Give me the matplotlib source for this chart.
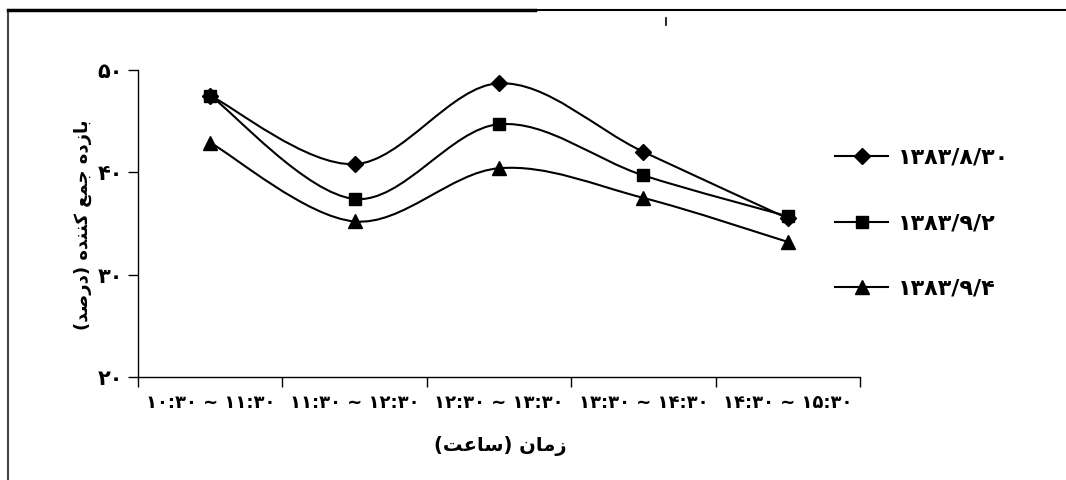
import matplotlib
matplotlib.use('Agg')
import matplotlib.pyplot as plt
from matplotlib.path import Path
from matplotlib.patches import PathPatch
from matplotlib.lines import Line2D

# ---------------- data ----------------
categories = ['۱۰:۳۰ ~ ۱۱:۳۰', '۱۱:۳۰ ~ ۱۲:۳۰', '۱۲:۳۰ ~ ۱۳:۳۰',
              '۱۳:۳۰ ~ ۱۴:۳۰', '۱۴:۳۰ ~ ۱۵:۳۰']
series_labels = ['۱۳۸۳/۸/۳۰', '۱۳۸۳/۹/۲', '۱۳۸۳/۹/۴']
values_8_30 = [47.5, 40.8, 48.7, 42.0, 35.5]
values_9_2 = [47.5, 37.4, 44.7, 39.7, 35.7]
values_9_4 = [42.9, 35.2, 40.4, 37.5, 33.2]
y_ticks = [20, 30, 40, 50]
y_tick_labels = ['۲۰', '۳۰', '۴۰', '۵۰']
x_label = 'زمان (ساعت)'
y_label = 'بازده جمع کننده (درصد)'

# ---------------- minimal Arabic/Persian shaping ----------------
FORMS = {  # isolated, final, initial, medial
    'ا': ('\uFE8D', '\uFE8E'), 'د': ('\uFEA9', '\uFEAA'),
    'ر': ('\uFEAD', '\uFEAE'), 'ز': ('\uFEAF', '\uFEB0'),
    'ب': ('\uFE8F', '\uFE90', '\uFE91', '\uFE92'),
    'ت': ('\uFE95', '\uFE96', '\uFE97', '\uFE98'),
    'ج': ('\uFE9D', '\uFE9E', '\uFE9F', '\uFEA0'),
    'س': ('\uFEB1', '\uFEB2', '\uFEB3', '\uFEB4'),
    'ص': ('\uFEB9', '\uFEBA', '\uFEBB', '\uFEBC'),
    'ع': ('\uFEC9', '\uFECA', '\uFECB', '\uFECC'),
    'م': ('\uFEE1', '\uFEE2', '\uFEE3', '\uFEE4'),
    'ن': ('\uFEE5', '\uFEE6', '\uFEE7', '\uFEE8'),
    'ه': ('\uFEE9', '\uFEEA', '\uFEEB', '\uFEEC'),
    'ک': ('\uFB8E', '\uFB8F', '\uFB90', '\uFB91'),
}
MIRROR = {'(': ')', ')': '('}


def shape(text):
    out = []
    n = len(text)
    for i, ch in enumerate(text):
        if ch not in FORMS:
            out.append(MIRROR.get(ch, ch))
            continue
        f = FORMS[ch]
        prev = text[i - 1] if i > 0 else ''
        nxt = text[i + 1] if i < n - 1 else ''
        cp = prev in FORMS and len(FORMS[prev]) == 4
        cn = len(f) == 4 and nxt in FORMS
        if cp and cn:
            out.append(f[3])
        elif cp:
            out.append(f[1])
        elif cn:
            out.append(f[2])
        else:
            out.append(f[0])
    return ''.join(reversed(out))


plt.rcParams['font.family'] = ['DejaVu Sans']
plt.rcParams['font.weight'] = 'bold'

W, H = 1066, 480
fig = plt.figure(figsize=(W / 100, H / 100), dpi=100)
ax = fig.add_axes([138 / W, 1 - 377 / H, (860 - 138) / W, (377 - 70) / H])

x = list(range(len(categories)))
all_series = [values_8_30, values_9_2, values_9_4]
markers = ['D', 's', '^']
msizes = [8.5, 9, 9.5]


def smooth_path(xs, ys):
    pts = list(zip(xs, ys))
    verts = [pts[0]]
    codes = [Path.MOVETO]
    for i in range(len(pts) - 1):
        p0 = pts[i - 1] if i > 0 else pts[i]
        p1 = pts[i]
        p2 = pts[i + 1]
        p3 = pts[i + 2] if i + 2 < len(pts) else pts[i + 1]
        c1 = (p1[0] + (p2[0] - p0[0]) / 6, p1[1] + (p2[1] - p0[1]) / 6)
        c2 = (p2[0] - (p3[0] - p1[0]) / 6, p2[1] - (p3[1] - p1[1]) / 6)
        verts += [c1, c2, p2]
        codes += [Path.CURVE4] * 3
    return Path(verts, codes)


handles = []
for vals, m, ms, lab in zip(all_series, markers, msizes, series_labels):
    ax.add_patch(PathPatch(smooth_path(x, vals), fill=False, edgecolor='black',
                           lw=1.5, zorder=2))
    ax.plot(x, vals, linestyle='none', marker=m, markersize=ms, color='black', zorder=3)
    handles.append(Line2D([], [], color='black', lw=1.5, marker=m, markersize=ms))

ax.set_xlim(-0.5, len(categories) - 0.5)
ax.set_ylim(20, 50)
ax.set_yticks(y_ticks)
ax.set_yticklabels(y_tick_labels, fontsize=15, fontweight='bold')
ax.set_xticks([i - 0.5 for i in range(len(categories) + 1)])
ax.set_xticklabels([])
ax.set_xticks(x, minor=True)
ax.set_xticklabels(categories, minor=True, fontsize=13, fontweight='bold')
ax.tick_params(axis='x', which='major', length=7, width=1, direction='out')
ax.tick_params(axis='x', which='minor', length=0, pad=12)
ax.tick_params(axis='y', length=7, width=1, direction='out', pad=4)
for s in ['top', 'right']:
    ax.spines[s].set_visible(False)
for s in ['left', 'bottom']:
    ax.spines[s].set_linewidth(1.0)

fig.text(500 / W, 1 - 446 / H, shape(x_label), ha='center', va='center',
         fontsize=14, fontweight='bold')
fig.text(83 / W, 1 - 225 / H, shape(y_label), ha='center', va='center',
         rotation=90, fontsize=13, fontweight='bold')

fig.legend(handles, series_labels, loc='upper left',
           bbox_to_anchor=(826 / W, 1 - 139 / H), frameon=False,
           borderaxespad=0, handlelength=2.4, labelspacing=2.05,
           handletextpad=0.45, prop={'size': 16, 'weight': 'bold'})

# outer frame of the scanned figure
fig.add_artist(Line2D([8 / W, 8 / W], [0, 1 - 10 / H], transform=fig.transFigure,
                      color='#444444', lw=1.5))
fig.add_artist(Line2D([8 / W, 535 / W], [1 - 10 / H, 1 - 10 / H],
                      transform=fig.transFigure, color='black', lw=2.5))
fig.add_artist(Line2D([535 / W, 1], [1 - 10 / H, 1 - 10 / H],
                      transform=fig.transFigure, color='black', lw=1.5))
fig.add_artist(Line2D([666 / W, 666 / W], [1 - 18 / H, 1 - 25 / H],
                      transform=fig.transFigure, color='black', lw=1.2))

fig.savefig('out.png', dpi=100)
